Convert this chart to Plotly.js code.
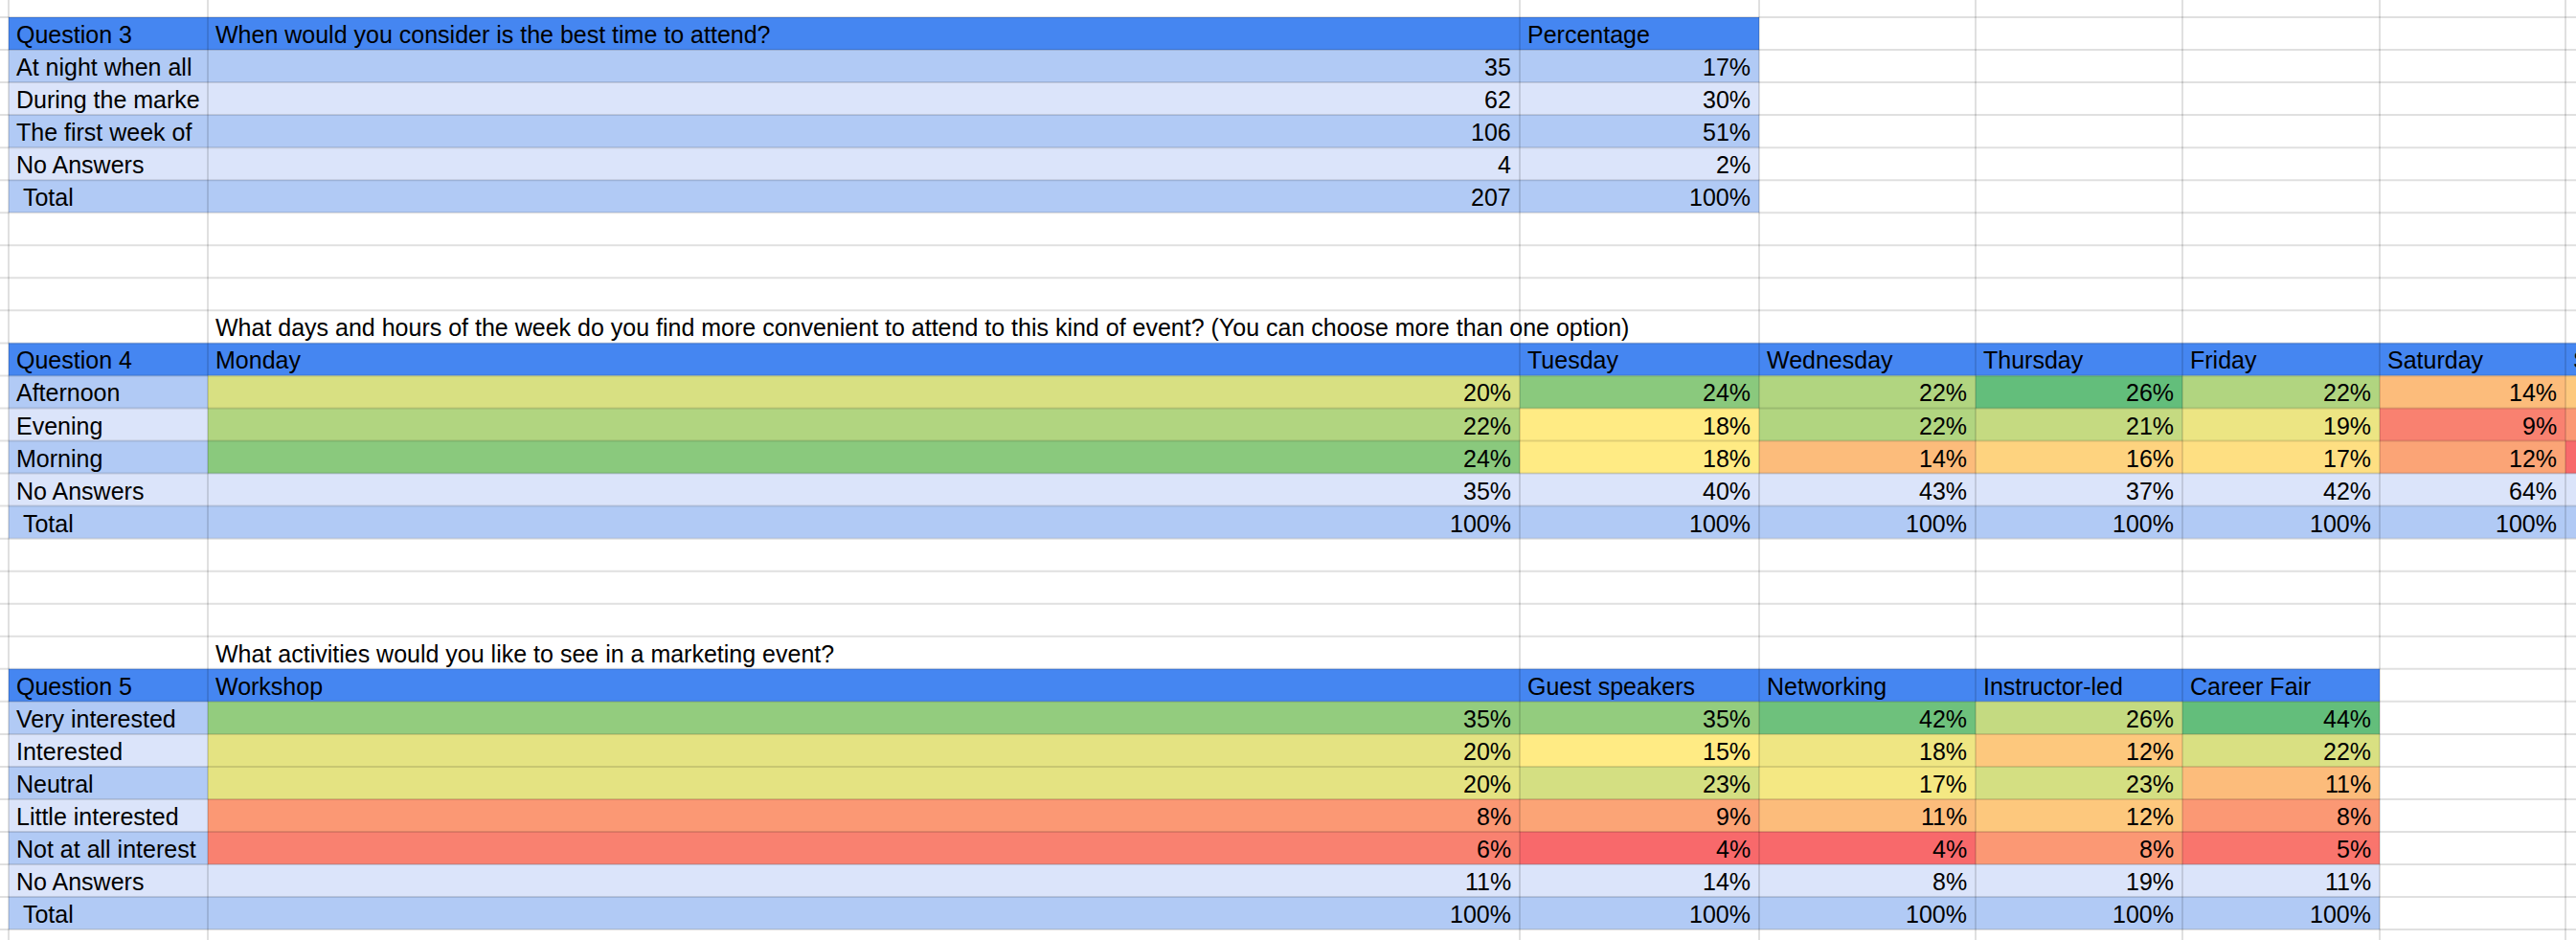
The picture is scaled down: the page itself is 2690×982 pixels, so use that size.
<!DOCTYPE html>
<html>
<head>
<meta charset="utf-8">
<script src="https://cdn.plot.ly/plotly-3.0.1.min.js"></script>
<style>html,body{margin:0;padding:0;background:#fff;}#chart{width:2690px;height:982px;}</style>
</head>
<body>
<div id="chart"></div>
<script>
// ---------------- DATA ----------------
const q3Label = "Question 3";
const q3Question = "When would you consider is the best time to attend?";
const q3PctHeader = "Percentage";
const q3Answers = ["At night when all", "During the marke", "The first week of", "No Answers"];
const q3Counts = [35, 62, 106, 4];
const q3Pct = [17, 30, 51, 2];
const q3TotalCount = 207;
const q3TotalPct = 100;

const q4Label = "Question 4";
const q4Question = "What days and hours of the week do you find more convenient to attend to this kind of event? (You can choose more than one option)";
const q4Days = ["Monday", "Tuesday", "Wednesday", "Thursday", "Friday", "Saturday", "Sunday"];
const q4Times = ["Afternoon", "Evening", "Morning"];
const q4Afternoon = [20, 24, 22, 26, 22, 14, 15];
const q4Evening = [22, 18, 22, 21, 19, 9, 11];
const q4Morning = [24, 18, 14, 16, 17, 12, 7];
const q4NoAnswers = [35, 40, 43, 37, 42, 64, null];
const q4Total = [100, 100, 100, 100, 100, 100, null];

const q5Label = "Question 5";
const q5Question = "What activities would you like to see in a marketing event?";
const q5Activities = ["Workshop", "Guest speakers", "Networking", "Instructor-led", "Career Fair"];
const q5Levels = ["Very interested", "Interested", "Neutral", "Little interested", "Not at all interest"];
const q5VeryInterested = [35, 35, 42, 26, 44];
const q5Interested = [20, 15, 18, 12, 22];
const q5Neutral = [20, 23, 17, 23, 11];
const q5LittleInterested = [8, 9, 11, 12, 8];
const q5NotAtAll = [6, 4, 4, 8, 5];
const q5NoAnswers = [11, 14, 8, 19, 11];
const q5Total = [100, 100, 100, 100, 100];

const noAnswersLabel = "No Answers";
const totalLabel = "\u00a0Total";

// ---------------- LAYOUT / STYLE ----------------
const W = 2690, H = 982;
const colEdges = [9, 217, 1587, 1837, 2063, 2279, 2485, 2679, 2905];
const ROW0 = 18, ROWH = 34.04;
const rowTop = k => ROW0 + ROWH * k;
const HEADER_BLUE = '#4586f1';
const BAND_DARK = '#b1caf5';
const BAND_LIGHT = '#dbe4fa';
const FONT = {family: 'Liberation Sans, Arial, sans-serif', size: 25, color: '#000000'};
const heatScale = ['#F8696B', '#FFEB84', '#63BE7B'];

function median(arr) {
  const s = arr.slice().sort((a, b) => a - b);
  const m = Math.floor(s.length / 2);
  return s.length % 2 ? s[m] : (s[m - 1] + s[m]) / 2;
}

const traces = [];
const annotations = [];

function bandTable(k0, nRows, nCols) {
  const z = [];
  for (let r = 0; r < nRows; r++) {
    const row = [];
    for (let c = 0; c < nCols; c++) row.push(r === 0 ? 0 : (r % 2 === 1 ? 1 : 2));
    z.push(row);
  }
  const y = [];
  for (let r = 0; r <= nRows; r++) y.push(rowTop(k0 + r));
  traces.push({
    type: 'heatmap', z: z, x: colEdges.slice(0, nCols + 1), y: y,
    zmin: 0, zmax: 2, showscale: false, hoverinfo: 'skip',
    colorscale: [[0, HEADER_BLUE], [0.5, BAND_DARK], [1, BAND_LIGHT]]
  });
}

function heatBlock(k0, rows, c0) {
  const flat = [].concat(...rows).filter(v => v !== null);
  const mn = Math.min(...flat), mx = Math.max(...flat), md = median(flat);
  const p = (md - mn) / (mx - mn);
  const nCols = rows[0].length;
  const y = [];
  for (let r = 0; r <= rows.length; r++) y.push(rowTop(k0 + r));
  traces.push({
    type: 'heatmap', z: rows, x: colEdges.slice(c0, c0 + nCols + 1), y: y,
    zmin: mn, zmax: mx, showscale: false, hoverinfo: 'skip',
    colorscale: [[0, heatScale[0]], [p, heatScale[1]], [1, heatScale[2]]]
  });
}

function cellText(text, col, k, align) {
  if (text === null || text === undefined) return;
  const left = align !== 'right';
  annotations.push({
    text: String(text), xref: 'x', yref: 'y', showarrow: false,
    x: left ? colEdges[col] + 6 : colEdges[col + 1] - 7,
    xanchor: left ? 'left' : 'right',
    y: rowTop(k + 1), yanchor: 'bottom',
    font: FONT
  });
}
const pct = v => (v === null ? null : v + '%');

// ---------- Question 3 ----------
bandTable(0, 6, 3);
cellText(q3Label, 0, 0, 'left');
cellText(q3Question, 1, 0, 'left');
cellText(q3PctHeader, 2, 0, 'left');
q3Answers.forEach((a, i) => {
  cellText(a, 0, 1 + i, 'left');
  cellText(q3Counts[i], 1, 1 + i, 'right');
  cellText(pct(q3Pct[i]), 2, 1 + i, 'right');
});
cellText(totalLabel, 0, 5, 'left');
cellText(q3TotalCount, 1, 5, 'right');
cellText(pct(q3TotalPct), 2, 5, 'right');

// ---------- Question 4 ----------
const q4k = 10;
cellText(q4Question, 1, q4k - 1, 'left');
bandTable(q4k, 6, 8);
const q4Rows = [q4Afternoon, q4Evening, q4Morning];
heatBlock(q4k + 1, q4Rows, 1);
cellText(q4Label, 0, q4k, 'left');
q4Days.forEach((d, j) => cellText(d, 1 + j, q4k, 'left'));
q4Times.forEach((t, i) => {
  cellText(t, 0, q4k + 1 + i, 'left');
  q4Rows[i].forEach((v, j) => cellText(pct(v), 1 + j, q4k + 1 + i, 'right'));
});
cellText(noAnswersLabel, 0, q4k + 4, 'left');
q4NoAnswers.forEach((v, j) => cellText(pct(v), 1 + j, q4k + 4, 'right'));
cellText(totalLabel, 0, q4k + 5, 'left');
q4Total.forEach((v, j) => cellText(pct(v), 1 + j, q4k + 5, 'right'));

// ---------- Question 5 ----------
const q5k = 20;
cellText(q5Question, 1, q5k - 1, 'left');
bandTable(q5k, 8, 6);
const q5Rows = [q5VeryInterested, q5Interested, q5Neutral, q5LittleInterested, q5NotAtAll];
heatBlock(q5k + 1, q5Rows, 1);
cellText(q5Label, 0, q5k, 'left');
q5Activities.forEach((a, j) => cellText(a, 1 + j, q5k, 'left'));
q5Levels.forEach((l, i) => {
  cellText(l, 0, q5k + 1 + i, 'left');
  q5Rows[i].forEach((v, j) => cellText(pct(v), 1 + j, q5k + 1 + i, 'right'));
});
cellText(noAnswersLabel, 0, q5k + 6, 'left');
q5NoAnswers.forEach((v, j) => cellText(pct(v), 1 + j, q5k + 6, 'right'));
cellText(totalLabel, 0, q5k + 7, 'left');
q5Total.forEach((v, j) => cellText(pct(v), 1 + j, q5k + 7, 'right'));

// ---------- Grid lines ----------
const shapes = [];
const GRID = 'rgba(0,0,0,0.12)';
for (let k = 0; k <= 28; k++) {
  shapes.push({type: 'line', xref: 'x', yref: 'y', x0: 0, x1: W, y0: rowTop(k), y1: rowTop(k),
    layer: 'above', line: {color: GRID, width: 2}});
}
colEdges.slice(0, colEdges.length - 1).forEach(x => {
  shapes.push({type: 'line', xref: 'x', yref: 'y', x0: x, x1: x, y0: 0, y1: H,
    layer: 'above', line: {color: GRID, width: 2}});
});

const layout = {
  width: W, height: H,
  margin: {l: 0, r: 0, t: 0, b: 0, pad: 0},
  paper_bgcolor: '#ffffff', plot_bgcolor: '#ffffff',
  xaxis: {range: [0, W], visible: false, fixedrange: true},
  yaxis: {range: [H, 0], visible: false, fixedrange: true},
  showlegend: false,
  annotations: annotations,
  shapes: shapes
};

Plotly.newPlot('chart', traces, layout, {staticPlot: true, displayModeBar: false});
</script>
</body>
</html>
